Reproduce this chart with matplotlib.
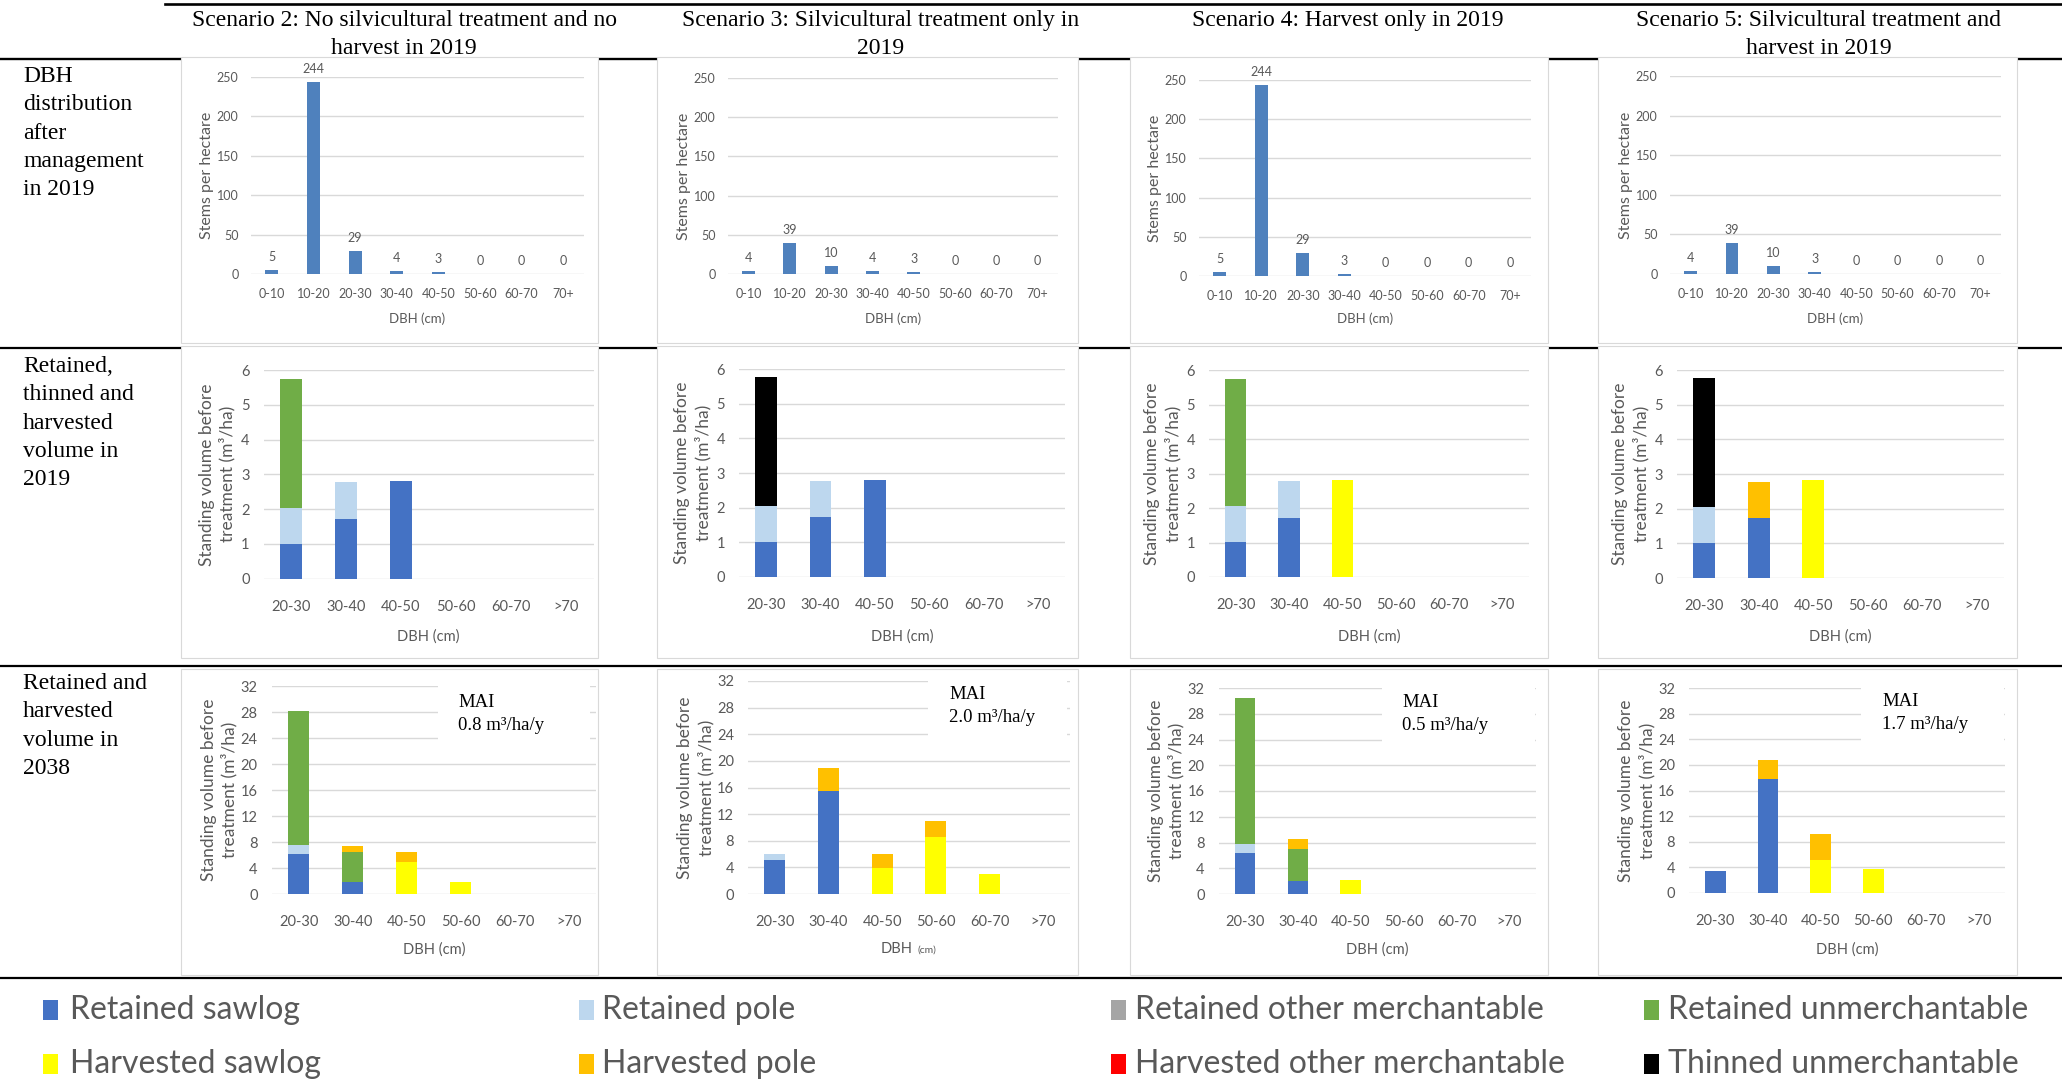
import matplotlib
matplotlib.use("Agg")
import matplotlib.pyplot as plt
import numpy as np
from matplotlib.lines import Line2D
from matplotlib.patches import Rectangle

plt.rcParams['font.family'] = ['Lato', 'DejaVu Sans']

W, H = 2062, 1081
GREY = '#595959'
GRID = '#D9D9D9'
SERIF = 'Liberation Serif'

scenario_titles = [
    'Scenario 2: No silvicultural treatment and no\nharvest in 2019',
    'Scenario 3: Silvicultural treatment only in\n2019',
    'Scenario 4: Harvest only in 2019',
    'Scenario 5: Silvicultural treatment and\nharvest in 2019',
]
row_titles = [
    'DBH\ndistribution\nafter\nmanagement\nin 2019',
    'Retained,\nthinned and\nharvested\nvolume in\n2019',
    'Retained and\nharvested\nvolume in\n2038',
]

# row 1: stems per hectare after management
dbh_classes = ['0-10', '10-20', '20-30', '30-40', '40-50', '50-60', '60-70', '70+']
stems_s2 = [5, 244, 29, 4, 3, 0, 0, 0]
stems_s3 = [4, 39, 10, 4, 3, 0, 0, 0]
stems_s4 = [5, 244, 29, 3, 0, 0, 0, 0]
stems_s5 = [4, 39, 10, 3, 0, 0, 0, 0]

# rows 2-3: volume (m3/ha) per DBH class, stacked by product
vol_classes = ['20-30', '30-40', '40-50', '50-60', '60-70', '>70']
components = ['Retained sawlog', 'Retained pole', 'Retained other merchantable',
              'Retained unmerchantable', 'Harvested sawlog', 'Harvested pole',
              'Harvested other merchantable', 'Thinned unmerchantable']
comp_colors = ['#4472C4', '#BDD7EE', '#A5A5A5', '#70AD47',
               '#FFFF00', '#FFC000', '#FF0000', '#000000']

vol2019_s2 = {'Retained sawlog': [1.0, 1.72, 2.8, 0, 0, 0],
              'Retained pole': [1.03, 1.05, 0, 0, 0, 0],
              'Retained unmerchantable': [3.72, 0, 0, 0, 0, 0]}
vol2019_s3 = {'Retained sawlog': [1.02, 1.72, 2.81, 0, 0, 0],
              'Retained pole': [1.02, 1.05, 0, 0, 0, 0],
              'Thinned unmerchantable': [3.73, 0, 0, 0, 0, 0]}
vol2019_s4 = {'Retained sawlog': [1.02, 1.72, 0, 0, 0, 0],
              'Retained pole': [1.03, 1.05, 0, 0, 0, 0],
              'Retained unmerchantable': [3.7, 0, 0, 0, 0, 0],
              'Harvested sawlog': [0, 0, 2.82, 0, 0, 0]}
vol2019_s5 = {'Retained sawlog': [1.02, 1.72, 0, 0, 0, 0],
              'Retained pole': [1.03, 0, 0, 0, 0, 0],
              'Harvested sawlog': [0, 0, 2.82, 0, 0, 0],
              'Harvested pole': [0, 1.05, 0, 0, 0, 0],
              'Thinned unmerchantable': [3.72, 0, 0, 0, 0, 0]}

vol2038_s2 = {'Retained sawlog': [6.15, 1.9, 0, 0, 0, 0],
              'Retained pole': [1.45, 0, 0, 0, 0, 0],
              'Retained unmerchantable': [20.6, 4.6, 0, 0, 0, 0],
              'Harvested sawlog': [0, 0, 5.0, 1.8, 0, 0],
              'Harvested pole': [0, 0.9, 1.5, 0, 0, 0]}
vol2038_s3 = {'Retained sawlog': [5.05, 15.4, 0, 0, 0, 0],
              'Retained pole': [0.9, 0, 0, 0, 0, 0],
              'Harvested sawlog': [0, 0, 3.9, 8.55, 2.95, 0],
              'Harvested pole': [0, 3.6, 2.05, 2.4, 0, 0]}
vol2038_s4 = {'Retained sawlog': [6.35, 1.95, 0, 0, 0, 0],
              'Retained pole': [1.45, 0, 0, 0, 0, 0],
              'Retained unmerchantable': [22.6, 5.1, 0, 0, 0, 0],
              'Harvested sawlog': [0, 0, 2.1, 0, 0, 0],
              'Harvested pole': [0, 1.5, 0, 0, 0, 0]}
vol2038_s5 = {'Retained sawlog': [3.45, 17.85, 0, 0, 0, 0],
              'Harvested sawlog': [0, 0, 5.1, 3.75, 0, 0],
              'Harvested pole': [0, 2.95, 4.05, 0, 0, 0]}

mai_values = ['0.8', '2.0', '0.5', '1.7']

stems_all = [stems_s2, stems_s3, stems_s4, stems_s5]
vol2019_all = [vol2019_s2, vol2019_s3, vol2019_s4, vol2019_s5]
vol2038_all = [vol2038_s2, vol2038_s3, vol2038_s4, vol2038_s5]

# layout in pixels (x0, x1, ytop, ybottom)
header_cx = [404, 881, 1348, 1819]
panel_x = [(181, 598), (657, 1078), (1130, 1548), (1598, 2017)]
panel_y = [(57, 343), (346, 658), (669, 975)]
row1_box = [(251, 584, 77, 274), (728, 1058, 78, 274), (1199, 1531, 80, 276), (1670, 2001, 76, 274)]
row2_box = [(263.5, 593.5, 370, 578.7), (739, 1065, 369, 577), (1209, 1529, 370, 577), (1677, 2004, 370, 578)]
row3_box = [(271.7, 596, 686, 894), (748, 1070, 681, 894), (1218.5, 1536, 688, 894), (1689, 2005, 688, 893)]
mai_box = [(438, 590), (928, 1067), (1382, 1535), (1861, 2004)]
mai_text_x = [458, 949, 1402, 1882]
mai_text_top = [694, 686, 694, 693]


def fx(x):
    return x / W


def fy(y):
    return 1 - y / H


fig = plt.figure(figsize=(W / 100, H / 100), dpi=100)


def hline(y, x0, x1, lw):
    fig.add_artist(Line2D([fx(x0), fx(x1)], [fy(y), fy(y)], transform=fig.transFigure,
                          color='black', lw=lw, zorder=-3))


def panel(x0, x1, y0, y1):
    fig.add_artist(Rectangle((fx(x0), fy(y1)), (x1 - x0) / W, (y1 - y0) / H,
                             transform=fig.transFigure, facecolor='white',
                             edgecolor=GRID, lw=0.8, zorder=-2))


def px_axes(x0, x1, y0, y1):
    ax = fig.add_axes([fx(x0), fy(y1), (x1 - x0) / W, (y1 - y0) / H])
    ax.set_facecolor('none')
    return ax


def style(ax, cats, ymax, ystep, fs, xpad, ypad):
    ax.set_xlim(-0.5, len(cats) - 0.5)
    ax.set_ylim(0, ymax)
    ax.set_yticks(np.arange(0, ymax + 0.01, ystep))
    ax.set_xticks(np.arange(len(cats)))
    ax.set_xticklabels(cats)
    for s in ax.spines.values():
        s.set_visible(False)
    ax.tick_params(length=0, labelsize=fs, labelcolor=GREY)
    ax.tick_params(axis='x', pad=xpad)
    ax.tick_params(axis='y', pad=ypad)
    ax.yaxis.grid(True, color=GRID, lw=1)
    ax.set_axisbelow(True)


# table rules
hline(4, 165, W, 1.9)
hline(59, 0, W, 1.7)
hline(348, 0, W, 1.6)
hline(666, 0, W, 1.6)
hline(978, 0, W, 1.6)

for (py0, py1) in panel_y:
    for (px0, px1) in panel_x:
        panel(px0, px1, py0, py1)

for cx, title in zip(header_cx, scenario_titles):
    fig.text(fx(cx), fy(10), title, ha='center', va='top', fontsize=17,
             family=SERIF, linespacing=1.45)

for ytop, title in zip([66, 356, 673], row_titles):
    fig.text(fx(23), fy(ytop), title, ha='left', va='top', fontsize=17,
             family=SERIF, linespacing=1.46)

# row 1
for stems, (x0, x1, y0, y1) in zip(stems_all, row1_box):
    ax = px_axes(x0, x1, y0, y1)
    x = np.arange(len(dbh_classes))
    bars = ax.bar(x, stems, width=0.31, color='#4F81BD')
    ax.bar_label(bars, padding=5, fontsize=9, color=GREY, clip_on=False)
    style(ax, dbh_classes, 250, 50, 9, 10, 9)
    ax.set_xlabel('DBH (cm)', fontsize=9.5, color=GREY)
    ax.xaxis.set_label_coords(fx((x0 + x1) / 2), fy(312), transform=fig.transFigure)
    ax.set_ylabel('Stems per hectare', fontsize=11.5, color=GREY)
    ax.yaxis.set_label_coords(fx(x0 - 37), fy((y0 + y1) / 2), transform=fig.transFigure)


def stacked(ax, data, width):
    x = np.arange(len(vol_classes))
    bottom = np.zeros(len(vol_classes))
    for comp, color in zip(components, comp_colors):
        vals = np.array(data.get(comp, np.zeros(len(vol_classes))), dtype=float)
        ax.bar(x, vals, width=width, bottom=bottom, color=color, lw=0)
        bottom += vals


ylab = 'Standing volume before\ntreatment (m³/ha)'

# row 2
for data, (x0, x1, y0, y1) in zip(vol2019_all, row2_box):
    ax = px_axes(x0, x1, y0, y1)
    stacked(ax, data, 0.4)
    style(ax, vol_classes, 6, 1, 10.5, 15, 10)
    ax.set_xlabel('DBH (cm)', fontsize=10.5, color=GREY)
    ax.xaxis.set_label_coords(fx((x0 + x1) / 2), fy(629), transform=fig.transFigure)
    ax.set_ylabel(ylab, fontsize=12.5, color=GREY, linespacing=1.3)
    ax.yaxis.set_label_coords(fx(x0 - 28), fy((y0 + y1) / 2), transform=fig.transFigure)

# row 3
for i, (data, (x0, x1, y0, y1)) in enumerate(zip(vol2038_all, row3_box)):
    ax = px_axes(x0, x1, y0, y1)
    stacked(ax, data, 0.39)
    style(ax, vol_classes, 32, 4, 10.5, 15, 10)
    cx = (x0 + x1) / 2
    if i == 1:
        # this panel shows a smaller "(cm)"
        ax.text(fx(cx + 4), fy(942), 'DBH', transform=fig.transFigure, ha='right',
                va='top', fontsize=10.5, color=GREY)
        ax.text(fx(cx + 8), fy(946), '(cm)', transform=fig.transFigure, ha='left',
                va='top', fontsize=7.5, color=GREY)
    else:
        ax.set_xlabel('DBH (cm)', fontsize=10.5, color=GREY)
        ax.xaxis.set_label_coords(fx(cx), fy(942), transform=fig.transFigure)
    ax.set_ylabel(ylab, fontsize=12.5, color=GREY, linespacing=1.3)
    ax.yaxis.set_label_coords(fx(x0 - 34), fy((y0 + y1) / 2), transform=fig.transFigure)
    bx0, bx1 = mai_box[i]
    ax.add_patch(Rectangle((fx(bx0), fy(752)), (bx1 - bx0) / W, (752 - 672) / H,
                           transform=fig.transFigure, facecolor='white', lw=0,
                           zorder=1.5, clip_on=False))
    ax.text(fx(mai_text_x[i]), fy(mai_text_top[i]), 'MAI\n' + mai_values[i] + ' m³/ha/y',
            transform=fig.transFigure, ha='left', va='top', fontsize=13.5,
            family=SERIF, linespacing=1.45, zorder=3)

# legend
leg_marker_x = [43, 579, 1111, 1644]
leg_text_x = [70, 602, 1135, 1668]
leg_row_y = [1010, 1064]
for i, (comp, color) in enumerate(zip(components, comp_colors)):
    r, c = divmod(i, 4)
    yc = leg_row_y[r]
    fig.add_artist(Rectangle((fx(leg_marker_x[c]), fy(yc + 10)), 15 / W, 20 / H,
                             transform=fig.transFigure, facecolor=color, lw=0))
    fig.text(fx(leg_text_x[c]), fy(yc), comp, ha='left', va='center',
             fontsize=23, color=GREY)

fig.savefig('out.png', dpi=100)
